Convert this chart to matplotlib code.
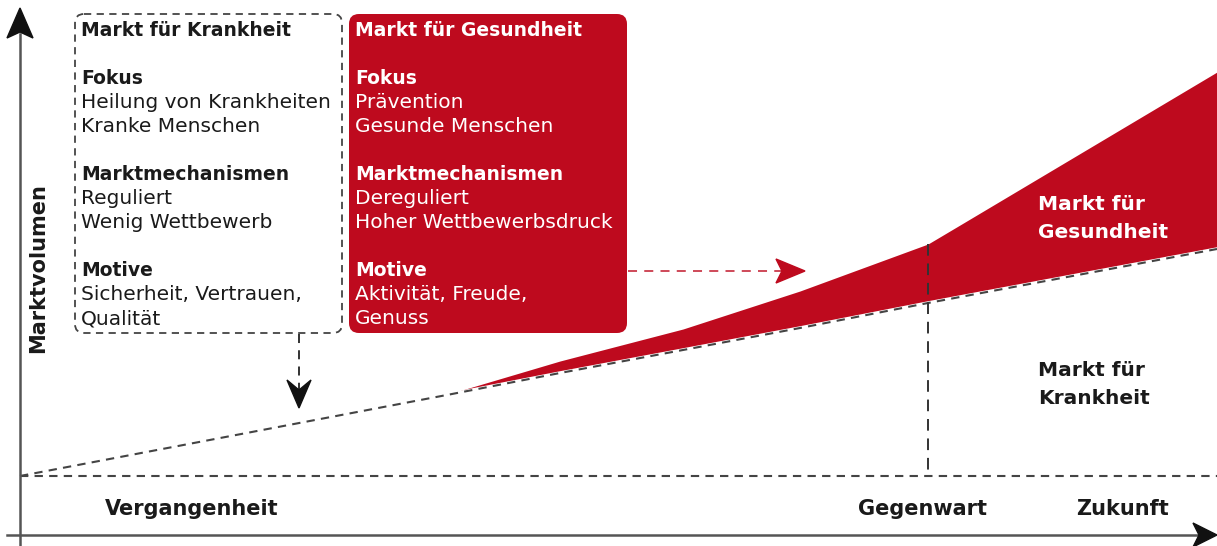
import matplotlib
matplotlib.use("Agg")
import matplotlib.pyplot as plt
from matplotlib.patches import FancyBboxPatch, Polygon

# Daten (Zeitachse links -> rechts, Marktvolumen als Bildhöhe, oben = mehr)
zeit = [20, 452, 560, 683, 800, 928, 960, 1217]
markt_krankheit = [476, 394, 373, 350, 328, 303, 297, 249]
markt_gesundheit = [476, 393, 361, 329, 291, 244, 225, 72]
gegenwart_x = 928
null_linie = 476

zeit_labels = ["Vergangenheit", "Gegenwart", "Zukunft"]
zeit_label_x = [105, 858, 1076]

box_krank = ["Markt für Krankheit", "",
             "Fokus", "Heilung von Krankheiten", "Kranke Menschen", "",
             "Marktmechanismen", "Reguliert", "Wenig Wettbewerb", "",
             "Motive", "Sicherheit, Vertrauen,", "Qualität"]
box_gesund = ["Markt für Gesundheit", "",
              "Fokus", "Prävention", "Gesunde Menschen", "",
              "Marktmechanismen", "Dereguliert", "Hoher Wettbewerbsdruck", "",
              "Motive", "Aktivität, Freude,", "Genuss"]
fett = ["Markt für Krankheit", "Markt für Gesundheit", "Fokus", "Marktmechanismen", "Motive"]

rot = "#BE0A1E"
grau = "#444444"

fig = plt.figure(figsize=(12.17, 5.46), dpi=100)
ax = fig.add_axes([0, 0, 1, 1])
ax.set_xlim(0, 1217)
ax.set_ylim(546, 0)
ax.axis("off")

# rote Fläche (Markt für Gesundheit)
ax.fill_between(zeit, markt_krankheit, markt_gesundheit, color=rot, lw=0, zorder=2)

# gestrichelte Linien
ax.plot(zeit, markt_krankheit, color="white", lw=2.5, zorder=3)
ax.plot(zeit, markt_krankheit, color=grau, lw=1.5, dashes=(4, 3), zorder=4)
ax.plot([20, 1217], [null_linie, null_linie], color=grau, lw=1.5, dashes=(4, 3), zorder=4)
ax.plot([gegenwart_x, gegenwart_x], [markt_gesundheit[5], null_linie], color="#333333",
        lw=1.4, dashes=(6, 4), zorder=4)

# Achsen mit Pfeilen
ax.plot([20, 20], [546, 34], color="#555555", lw=1.8, zorder=5)
ax.add_patch(Polygon([(20, 8), (33, 38), (20, 32), (7, 38)], closed=True, color="#111111", zorder=6))
ax.plot([7, 1200], [535, 535], color="#555555", lw=1.8, zorder=5)
ax.add_patch(Polygon([(1217, 535), (1193, 547), (1199, 535), (1193, 523)], closed=True,
                     color="#111111", zorder=6))

# Boxen
ax.add_patch(FancyBboxPatch((75, 14), 267, 319, boxstyle="round,pad=0,rounding_size=9",
                            fc="none", ec=grau, lw=1.3, ls=(0, (4, 3)), zorder=3))
ax.add_patch(FancyBboxPatch((349, 14), 278, 319, boxstyle="round,pad=0,rounding_size=10",
                            fc=rot, ec="none", zorder=3))

zeile = 24
for i, t in enumerate(box_krank):
    if t:
        bold = t in fett
        ax.text(81, 31 + i * zeile, t, color="#1a1a1a", fontsize=13.5 if bold else 14.5,
                fontweight="bold" if bold else "normal", va="center", ha="left",
                family="DejaVu Sans", zorder=7)
for i, t in enumerate(box_gesund):
    if t:
        bold = t in fett
        ax.text(355, 31 + i * zeile, t, color="white", fontsize=13.5 if bold else 14.5,
                fontweight="bold" if bold else "normal", va="center", ha="left",
                family="DejaVu Sans", zorder=7)

# Pfeil nach unten (schwarz, gestrichelt)
ax.plot([299, 299], [334, 392], color="#222222", lw=1.3, dashes=(5, 4), zorder=4)
ax.add_patch(Polygon([(299, 408), (311, 380), (299, 390), (287, 380)], closed=True,
                     color="#111111", zorder=6))

# Pfeil nach rechts (rot, gestrichelt)
ax.plot([628, 790], [271, 271], color=rot, lw=1.3, dashes=(5, 4), alpha=0.8, zorder=4)
ax.add_patch(Polygon([(805, 271), (776, 283), (782, 271), (776, 259)], closed=True,
                     color=rot, zorder=6))

# Beschriftungen
ax.text(38, 268, "Marktvolumen", rotation=90, fontsize=15, fontweight="bold", va="center",
        ha="center", color="#1a1a1a", family="DejaVu Sans")
ax.text(1038, 205, "Markt für", fontsize=14.5, fontweight="bold", color="white",
        va="center", ha="left", family="DejaVu Sans", zorder=7)
ax.text(1038, 232, "Gesundheit", fontsize=14.5, fontweight="bold", color="white",
        va="center", ha="left", family="DejaVu Sans", zorder=7)
ax.text(1038, 370, "Markt für", fontsize=14.5, fontweight="bold", color="#1a1a1a",
        va="center", ha="left", family="DejaVu Sans", zorder=7)
ax.text(1038, 398, "Krankheit", fontsize=14.5, fontweight="bold", color="#1a1a1a",
        va="center", ha="left", family="DejaVu Sans", zorder=7)

for lab, x in zip(zeit_labels, zeit_label_x):
    ax.text(x, 509, lab, fontsize=15, fontweight="bold", color="#1a1a1a", va="center",
            ha="left", family=["Liberation Sans Narrow", "DejaVu Sans"], zorder=7)

fig.savefig("out.png", dpi=100)
